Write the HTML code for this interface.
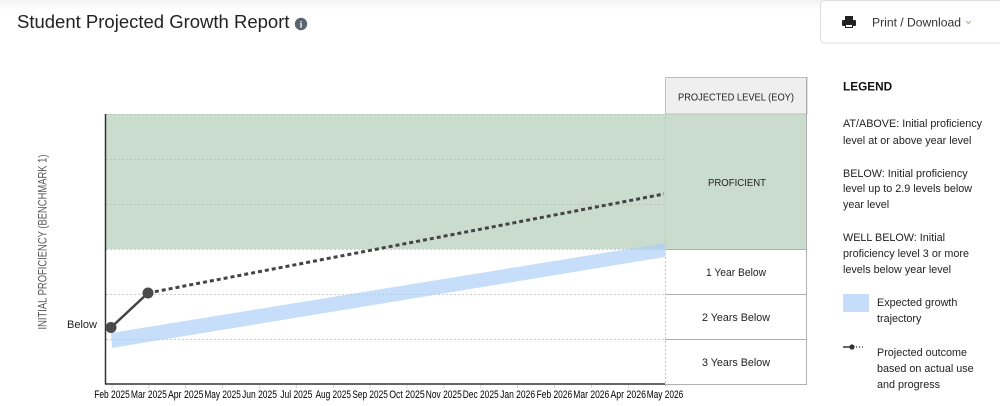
<!DOCTYPE html>
<html>
<head>
<meta charset="utf-8">
<style>
html,body{margin:0;padding:0;background:#fff;}
body{width:1000px;height:406px;overflow:hidden;position:relative;font-family:"Liberation Sans",Arial,sans-serif;}
svg{position:absolute;left:0;top:0;display:block;}
</style>
</head>
<body>
<svg width="1000" height="406" viewBox="0 0 1000 406" xmlns="http://www.w3.org/2000/svg" font-family="Liberation Sans, Arial, sans-serif">
  <defs>
    <linearGradient id="topg" x1="0" y1="0" x2="0" y2="1">
      <stop offset="0" stop-color="#f3f3f3"/>
      <stop offset="1" stop-color="#ffffff"/>
    </linearGradient>
    <clipPath id="xclip"><rect x="0" y="386" width="683" height="20"/></clipPath>
  </defs>
  <rect x="0" y="0" width="1000" height="10" fill="url(#topg)"/>

  <!-- Title -->
  <text x="17" y="28" font-size="18.5" fill="#222">Student Projected Growth Report</text>
  <circle cx="301" cy="24" r="6.2" fill="#5b6570"/>
  <text x="301" y="27.5" font-size="9" font-weight="bold" fill="#fff" text-anchor="middle" font-family="Liberation Serif, serif">i</text>

  <!-- Print button -->
  <rect x="820.5" y="0.5" width="190" height="42.5" rx="4" fill="#fff" stroke="#dcdcdc"/>
  <g fill="#222">
    <rect x="845" y="16" width="8" height="4"/>
    <rect x="842" y="20" width="14" height="6" rx="1"/>
    <rect x="845" y="24" width="8" height="4" fill="#222"/>
    <rect x="846" y="25" width="6" height="2" fill="#fff"/>
  </g>
  <text x="872" y="26.5" font-size="12.4" fill="#333" textLength="89" lengthAdjust="spacingAndGlyphs">Print / Download</text>
  <path d="M966 21 L968.5 23.5 L971 21" fill="none" stroke="#7cc383" stroke-width="1"/>

  <!-- Green band -->
  <rect x="106" y="114" width="559" height="135" fill="#cadccd"/>
  <rect x="665" y="114" width="142" height="135" fill="#cadccd"/>

  <!-- Gridlines -->
  <g stroke="#b9c4bb" stroke-width="1" stroke-dasharray="2,2">
    <line x1="106" y1="114.5" x2="665" y2="114.5"/>
    <line x1="106" y1="159.5" x2="665" y2="159.5"/>
    <line x1="106" y1="204.5" x2="665" y2="204.5"/>
  </g>
  <g stroke="#cccccc" stroke-width="1" stroke-dasharray="2,2">
    <line x1="106" y1="249.5" x2="665" y2="249.5"/>
    <line x1="106" y1="294.5" x2="665" y2="294.5"/>
    <line x1="106" y1="339.5" x2="665" y2="339.5"/>
  </g>

  <!-- Table -->
  <rect x="665.5" y="77.5" width="141.5" height="36.5" fill="#efefef" stroke="#bdbdbd"/>
  <text x="736" y="100.5" font-size="10" fill="#222" text-anchor="middle" textLength="116" lengthAdjust="spacingAndGlyphs">PROJECTED LEVEL (EOY)</text>
  <g stroke="#b0b0b0" stroke-width="1" fill="none">
    <line x1="806.5" y1="77" x2="806.5" y2="384.5"/>
    <line x1="665" y1="249.5" x2="807" y2="249.5"/>
    <line x1="665" y1="294.5" x2="807" y2="294.5"/>
    <line x1="665" y1="339.5" x2="807" y2="339.5"/>
    <line x1="665" y1="384.5" x2="807" y2="384.5"/>
  </g>
  <text x="737" y="186" font-size="10.4" fill="#222" text-anchor="middle" textLength="58" lengthAdjust="spacingAndGlyphs">PROFICIENT</text>
  <text x="736" y="276" font-size="11" fill="#222" text-anchor="middle" textLength="60" lengthAdjust="spacingAndGlyphs">1 Year Below</text>
  <text x="736" y="321" font-size="11" fill="#222" text-anchor="middle" textLength="68" lengthAdjust="spacingAndGlyphs">2 Years Below</text>
  <text x="736" y="366" font-size="11" fill="#222" text-anchor="middle" textLength="68" lengthAdjust="spacingAndGlyphs">3 Years Below</text>

  <!-- Vertical dotted divider -->
  <line x1="665.5" y1="77" x2="665.5" y2="389" stroke="#c4c4c4" stroke-dasharray="2,2"/>

  <!-- Axes -->
  <line x1="105.5" y1="114" x2="105.5" y2="384.5" stroke="#333" stroke-width="1.5"/>
  <line x1="105" y1="384" x2="665" y2="384" stroke="#333" stroke-width="1.5"/>

  <!-- Tick marks -->
  <g stroke="#bbb" stroke-width="1" stroke-dasharray="1,1">
    <line x1="112" y1="385" x2="112" y2="389"/>
    <line x1="148.9" y1="385" x2="148.9" y2="389"/>
    <line x1="185.7" y1="385" x2="185.7" y2="389"/>
    <line x1="222.6" y1="385" x2="222.6" y2="389"/>
    <line x1="259.5" y1="385" x2="259.5" y2="389"/>
    <line x1="296.3" y1="385" x2="296.3" y2="389"/>
    <line x1="333.2" y1="385" x2="333.2" y2="389"/>
    <line x1="370.1" y1="385" x2="370.1" y2="389"/>
    <line x1="407" y1="385" x2="407" y2="389"/>
    <line x1="443.8" y1="385" x2="443.8" y2="389"/>
    <line x1="480.7" y1="385" x2="480.7" y2="389"/>
    <line x1="517.6" y1="385" x2="517.6" y2="389"/>
    <line x1="554.4" y1="385" x2="554.4" y2="389"/>
    <line x1="591.3" y1="385" x2="591.3" y2="389"/>
    <line x1="628.2" y1="385" x2="628.2" y2="389"/>
  </g>

  <!-- X labels -->
  <g font-size="10.6" fill="#000" text-anchor="middle" clip-path="url(#xclip)">
    <text x="112" y="398" textLength="35.5" lengthAdjust="spacingAndGlyphs">Feb 2025</text>
    <text x="148.9" y="398" textLength="36" lengthAdjust="spacingAndGlyphs">Mar 2025</text>
    <text x="185.7" y="398" textLength="35.5" lengthAdjust="spacingAndGlyphs">Apr 2025</text>
    <text x="222.6" y="398" textLength="36.5" lengthAdjust="spacingAndGlyphs">May 2025</text>
    <text x="259.5" y="398" textLength="35" lengthAdjust="spacingAndGlyphs">Jun 2025</text>
    <text x="296.3" y="398" textLength="32" lengthAdjust="spacingAndGlyphs">Jul 2025</text>
    <text x="333.2" y="398" textLength="35.5" lengthAdjust="spacingAndGlyphs">Aug 2025</text>
    <text x="370.1" y="398" textLength="35.5" lengthAdjust="spacingAndGlyphs">Sep 2025</text>
    <text x="407" y="398" textLength="35.5" lengthAdjust="spacingAndGlyphs">Oct 2025</text>
    <text x="443.8" y="398" textLength="36" lengthAdjust="spacingAndGlyphs">Nov 2025</text>
    <text x="480.7" y="398" textLength="36" lengthAdjust="spacingAndGlyphs">Dec 2025</text>
    <text x="517.6" y="398" textLength="35" lengthAdjust="spacingAndGlyphs">Jan 2026</text>
    <text x="554.4" y="398" textLength="35.5" lengthAdjust="spacingAndGlyphs">Feb 2026</text>
    <text x="591.3" y="398" textLength="36" lengthAdjust="spacingAndGlyphs">Mar 2026</text>
    <text x="628.2" y="398" textLength="35.5" lengthAdjust="spacingAndGlyphs">Apr 2026</text>
    <text x="665" y="398" textLength="36.5" lengthAdjust="spacingAndGlyphs">May 2026</text>
  </g>

  <!-- Y axis label -->
  <text transform="translate(46.5,242) rotate(-90)" font-size="11.8" fill="#555" text-anchor="middle" textLength="175" lengthAdjust="spacingAndGlyphs">INITIAL PROFICIENCY (BENCHMARK 1)</text>
  <text x="67" y="328" font-size="11" fill="#222">Below</text>

  <!-- Expected growth band -->
  <polygon points="111,333 665,243 665,257 112,348" fill="#a9cdf8" fill-opacity="0.65"/>

  <!-- Projected line -->
  <line x1="148" y1="293" x2="664" y2="194" stroke="#444" stroke-width="3" stroke-dasharray="4,3"/>
  <line x1="111" y1="327.5" x2="148" y2="293" stroke="#444" stroke-width="2.5"/>
  <circle cx="111" cy="327.5" r="5.5" fill="#4a4a4a"/>
  <circle cx="148" cy="293" r="5.5" fill="#4a4a4a"/>

  <!-- Legend -->
  <text x="843" y="90.5" font-size="11.8" font-weight="bold" fill="#111">LEGEND</text>
  <g font-size="10.8" fill="#222">
    <text x="843" y="127">AT/ABOVE: Initial proficiency</text>
    <text x="843" y="144">level at or above year level</text>
    <text x="843" y="177">BELOW: Initial proficiency</text>
    <text x="843" y="192">level up to 2.9 levels below</text>
    <text x="843" y="208">year level</text>
    <text x="843" y="241">WELL BELOW: Initial</text>
    <text x="843" y="257">proficiency level 3 or more</text>
    <text x="843" y="273">levels below year level</text>
    <text x="877" y="306">Expected growth</text>
    <text x="877" y="322">trajectory</text>
    <text x="877" y="356">Projected outcome</text>
    <text x="877" y="372">based on actual use</text>
    <text x="877" y="388">and progress</text>
  </g>
  <rect x="843" y="294" width="26" height="18" fill="#c5ddfa"/>
  <line x1="843" y1="347" x2="852" y2="347" stroke="#333" stroke-width="1.5"/>
  <circle cx="852" cy="347" r="2.6" fill="#333"/>
  <line x1="856" y1="347" x2="863" y2="347" stroke="#333" stroke-width="1.2" stroke-dasharray="1.2,1.8"/>
</svg>
</body>
</html>
